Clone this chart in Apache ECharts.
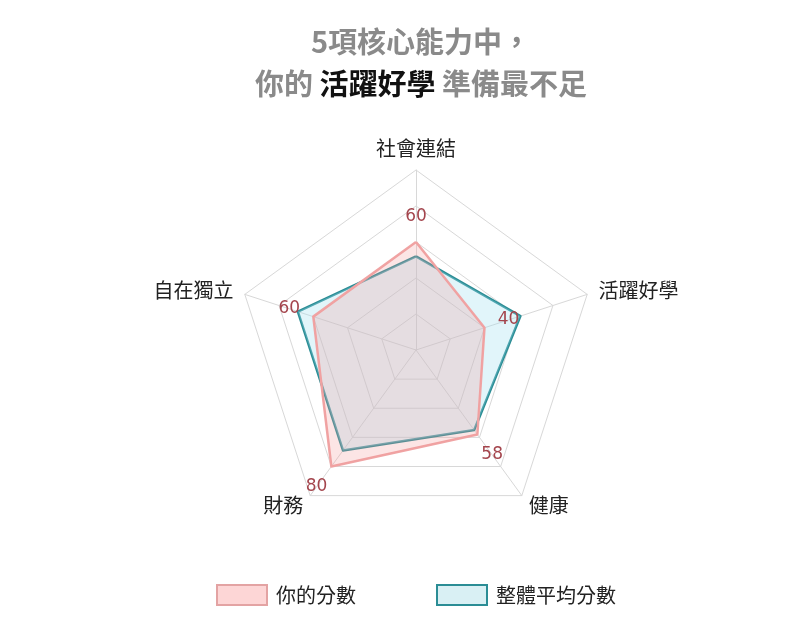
<!DOCTYPE html>
<html>
<head>
<meta charset="utf-8">
<script src="https://cdn.jsdelivr.net/npm/echarts@6/dist/echarts.min.js"></script>
<style>
html, body { margin: 0; padding: 0; background: #fff; }
#main { width: 787px; height: 625px; }
</style>
</head>
<body>
<div id="main"></div>
<script>
// 五項能力 (逆時針，從上方開始)
var abilities = ['社會連結', '自在獨立', '財務', '健康', '活躍好學']
var maxScore = 100
var yourScores = [60, 60, 80, 58, 40]
var avgScores = [52, 69, 69, 55, 61]
var seriesNames = ['你的分數', '整體平均分數']

// 數字標籤往外推一點
var labelPush = 14

var myChart = echarts.init(document.getElementById('main'))

var font = '"Noto Sans CJK TC", "Noto Sans", sans-serif'

var option = {
    animation: false,
    backgroundColor: '#fff',
    title: {
        left: 416,
        textAlign: 'center',
        top: 16,
        text: '5項核心能力中，\n你的 {hl|活躍好學} 準備最不足',
        textStyle: {
            fontFamily: font,
            fontSize: 29,
            fontWeight: 'bold',
            color: '#8a8a8a',
            lineHeight: 42,
            rich: {
                hl: {
                    fontFamily: font,
                    fontSize: 29,
                    fontWeight: 'bold',
                    color: '#111'
                }
            }
        }
    },
    legend: {
        bottom: 14,
        left: 211,
        icon: 'rect',
        itemWidth: 50,
        itemHeight: 20,
        itemGap: 80,
        textStyle: { fontFamily: font, fontSize: 20, color: '#222', padding: [0, 0, 0, 4] },
        data: [
            { name: seriesNames[0], itemStyle: { color: '#fdd6d6', borderColor: '#e3a3a3', borderWidth: 2 } },
            { name: seriesNames[1], itemStyle: { color: '#d9f0f4', borderColor: '#2b8d95', borderWidth: 2 } }
        ]
    },
    radar: {
        center: [416, 350],
        radius: 180,
        splitNumber: 5,
        shape: 'polygon',
        nameGap: 12,
        axisName: { fontFamily: font, fontSize: 20, color: '#222' },
        indicator: abilities.map(function(name) {
            return { name: name, max: maxScore, min: 0 }
        }),
        splitLine: { lineStyle: { color: '#d8d8d8', width: 1 } },
        splitArea: { show: false },
        axisLine: { lineStyle: { color: '#d8d8d8', width: 1 } }
    },
    series: [{
        type: 'radar',
        symbol: 'none',
        data: [{
            name: seriesNames[1],
            value: avgScores,
            lineStyle: { color: '#2b8d95', width: 2.5 },
            areaStyle: { color: 'rgba(160, 224, 238, 0.45)' },
            itemStyle: { color: '#2b8d95' }
        }]
    }, {
        type: 'radar',
        symbol: 'none',
        data: [{
            name: seriesNames[0],
            value: yourScores,
            lineStyle: { color: '#f0a4a4', width: 2.5 },
            areaStyle: { color: 'rgba(242, 150, 150, 0.36)' },
            itemStyle: { color: '#f0a4a4' }
        }]
    }, {
        // 只用來放數字標籤
        type: 'radar',
        symbol: 'circle',
        symbolSize: 2,
        silent: true,
        z: 5,
        data: [{
            name: 'labels',
            value: yourScores.map(function(v) { return v + labelPush }),
            lineStyle: { color: 'transparent', width: 0 },
            itemStyle: { color: 'transparent', borderWidth: 0 },
            label: {
                show: true,
                position: 'inside',
                fontFamily: '"DejaVu Sans", sans-serif',
                fontSize: 17,
                color: '#a4454d',
                formatter: function(p) { return p.value - labelPush }
            }
        }]
    }]
}

myChart.setOption(option)
</script>
</body>
</html>
